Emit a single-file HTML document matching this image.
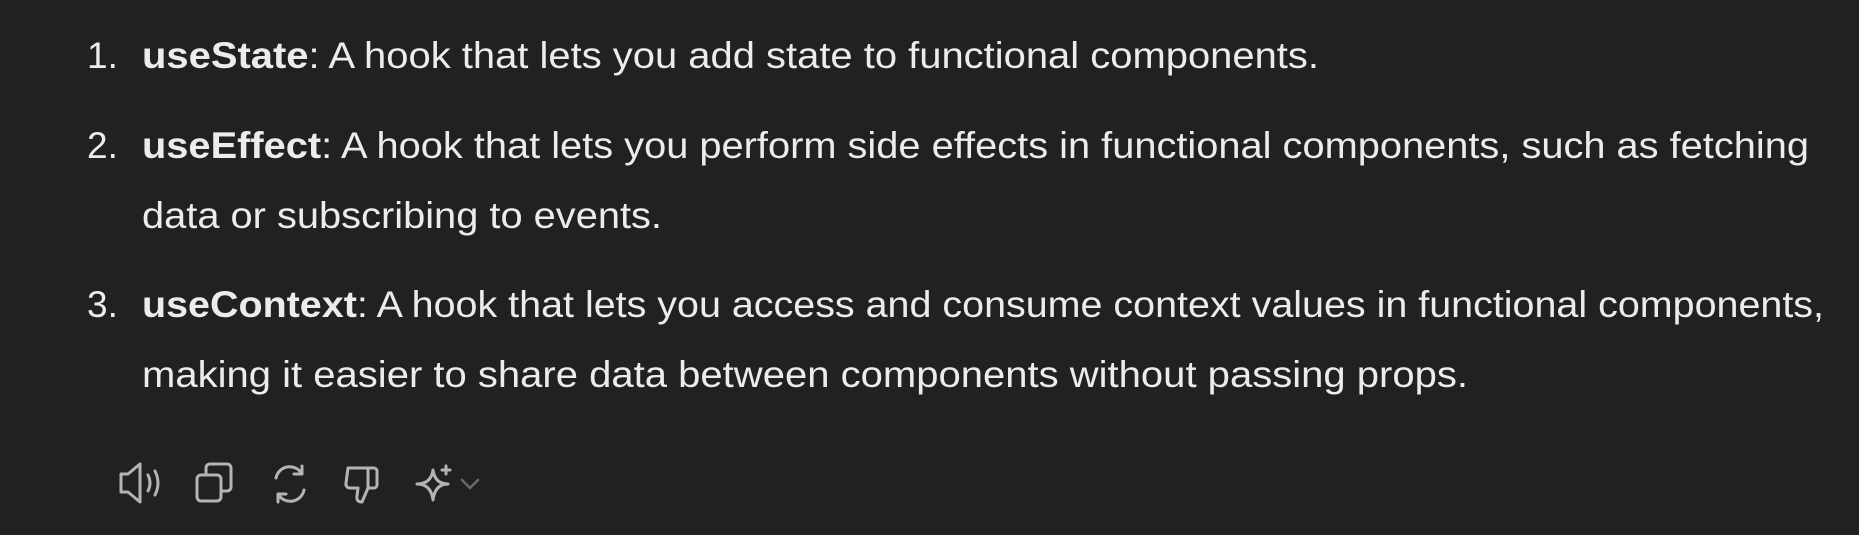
<!DOCTYPE html>
<html><head><meta charset="utf-8"><style>
html,body{margin:0;padding:0;background:#212121;width:1859px;height:535px;overflow:hidden}
svg{display:block}
text{font-family:"Liberation Sans",sans-serif;font-size:37px;fill:#ececec}
</style></head><body>
<svg width="1859" height="535" viewBox="0 0 1859 535">
<text x="87" y="68">1.</text>
<text x="142" y="68" textLength="1177" lengthAdjust="spacingAndGlyphs"><tspan font-weight="bold">useState</tspan>: A hook that lets you add state to functional components.</text>
<text x="87" y="158">2.</text>
<text x="142" y="158" textLength="1667" lengthAdjust="spacingAndGlyphs"><tspan font-weight="bold">useEffect</tspan>: A hook that lets you perform side effects in functional components, such as fetching</text>
<text x="142" y="228" textLength="520" lengthAdjust="spacingAndGlyphs">data or subscribing to events.</text>
<text x="87" y="317">3.</text>
<text x="142" y="317" textLength="1682" lengthAdjust="spacingAndGlyphs"><tspan font-weight="bold">useContext</tspan>: A hook that lets you access and consume context values in functional components,</text>
<text x="142" y="387" textLength="1326" lengthAdjust="spacingAndGlyphs">making it easier to share data between components without passing props.</text>
<g fill="none" stroke="#b4b4b4" stroke-width="3" stroke-linecap="round" stroke-linejoin="round">
<path d="M121 474 h7 l12 -10 v38 l-12 -10 h-7 z"/>
<path d="M148 475 q4 8 0 16"/><path d="M155 471 q6 12 0 24"/>
<rect x="197" y="475" width="24" height="26" rx="4"/>
<path d="M206 475 v-7 a4 4 0 0 1 4 -4 h17 a4 4 0 0 1 4 4 v19 a4 4 0 0 1 -4 4 h-6"/>
<path d="M276 478 a14 14 0 0 1 26 -4 M302 466 v8 h-8"/>
<path d="M304 490 a14 14 0 0 1 -26 4 M278 502 v-8 h8"/>
<path d="M348 468 h26 a3 3 0 0 1 3 3 v14 a3 3 0 0 1 -3 3 h-6 l-6 14 q-6 0 -5 -6 l1 -8 h-8 a4 4 0 0 1 -4 -5 z M368 468 v20"/>
<path d="M433 470 q2 14 15 14 q-13 0 -15 16 q-2 -16 -16 -16 q14 0 16 -14 z"/>
<path d="M446 466 v8 M442 470 h8"/>
</g>
<path d="M462 480 l8 8 l8 -8" fill="none" stroke="#6a6a6a" stroke-width="2.5" stroke-linecap="round"/>
</svg>
</body></html>
